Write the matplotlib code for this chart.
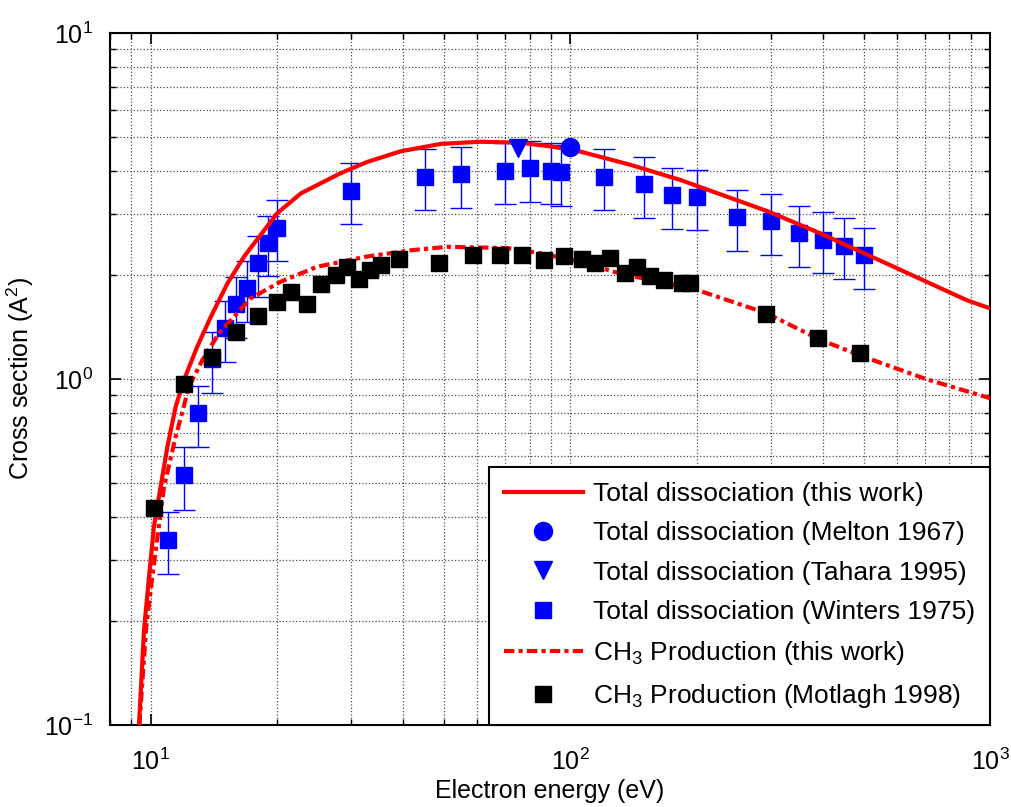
import matplotlib
matplotlib.use("Agg")
import matplotlib.pyplot as plt
from matplotlib.lines import Line2D

# total dissociation, this work
tot_x = [9.38, 9.64, 9.91, 10.18, 10.56, 10.96, 11.47, 12.0, 12.91, 13.9, 15.24, 16.7,
         20.0, 22.8, 28.3, 32.8, 39.4, 49, 61, 76, 91, 105.8, 139, 183, 296, 393, 600,
         880, 1000]
tot_y = [0.1, 0.188, 0.268, 0.374, 0.488, 0.637, 0.832, 0.993, 1.24, 1.51, 1.89, 2.26,
         3.01, 3.44, 3.93, 4.24, 4.55, 4.78, 4.85, 4.82, 4.69, 4.54, 4.16, 3.76, 3.05,
         2.64, 2.09, 1.69, 1.6]

# CH3 production, this work
ch3_x = [9.4, 9.75, 10.09, 10.76, 11.47, 12.34, 13.28, 14.54, 17.3, 20.4, 24.9, 32.8,
         42.3, 50.9, 70.7, 84.7, 105.8, 131, 200, 293, 393, 490, 703, 1000]
ch3_y = [0.1, 0.19, 0.268, 0.488, 0.681, 0.95, 1.135, 1.355, 1.71, 1.91, 2.11, 2.26,
         2.36, 2.41, 2.39, 2.31, 2.18, 2.02, 1.81, 1.55, 1.30, 1.17, 1.0, 0.88]

# Melton 1967, Tahara 1995
melton_x, melton_y = [100], [4.69]
tahara_x, tahara_y = [75], [4.65]

# Winters 1975 with error bars
win_x = [11, 12, 13, 14, 15, 16, 17, 18, 19, 20, 30, 45, 55, 70, 80, 90, 95,
         120, 150, 175, 200, 250, 300, 350, 400, 450, 500]
win_y = [0.343, 0.528, 0.797, 1.14, 1.40, 1.647, 1.83, 2.16, 2.47, 2.74, 3.50, 3.84,
         3.91, 4.0, 4.06, 4.0, 3.96, 3.84, 3.65, 3.40, 3.36, 2.93, 2.86, 2.64, 2.53,
         2.43, 2.28]
win_err = [0.07, 0.11, 0.16, 0.23, 0.28, 0.33, 0.37, 0.43, 0.49, 0.55, 0.70, 0.77,
           0.78, 0.80, 0.81, 0.80, 0.79, 0.77, 0.73, 0.68, 0.67, 0.59, 0.57, 0.53,
           0.51, 0.49, 0.46]

# Motlagh 1998
mot_x = [10.2, 12, 14, 16, 18, 20, 21.6, 23.6, 25.5, 27.6, 29.4, 31.3, 33.4, 35.3, 39,
         48.6, 58.7, 67.8, 76.7, 86.4, 96.4, 106.7, 114.7, 124.5, 134.7, 144.2, 155,
         166.8, 184.5, 193, 293, 390, 489]
mot_y = [0.423, 0.97, 1.16, 1.364, 1.52, 1.67, 1.79, 1.65, 1.88, 2.00, 2.11, 1.95,
         2.07, 2.14, 2.22, 2.16, 2.28, 2.28, 2.28, 2.21, 2.26, 2.22, 2.16, 2.23, 2.02,
         2.11, 1.98, 1.93, 1.89, 1.89, 1.54, 1.31, 1.19]

plt.rcParams["font.family"] = ["Liberation Sans", "DejaVu Sans"]
plt.rcParams["mathtext.default"] = "regular"
plt.rcParams["axes.unicode_minus"] = False

fig = plt.figure(figsize=(10.12, 8.07), dpi=100)
ax = fig.add_axes([0.1087, 0.1016, 0.8696, 0.8575])

ax.errorbar(win_x, win_y, yerr=win_err, fmt="s", color="blue", ms=12, ecolor="blue",
            elinewidth=1, capsize=8, capthick=1, zorder=2)
dd = (0, (2.5, 1, 1, 1))
ax.plot(tot_x, tot_y, "-", color="red", lw=3, zorder=3)
ax.plot(ch3_x, ch3_y, color="red", lw=3, linestyle=dd, zorder=3)
ax.plot(mot_x, mot_y, "s", color="black", ms=12, zorder=4)
ax.plot(melton_x, melton_y, "o", color="blue", ms=13, zorder=5)
ax.plot(tahara_x, tahara_y, "v", color="blue", ms=13, zorder=5)

ax.set_xscale("log")
ax.set_yscale("log")
ax.set_xlim(8, 1000)
ax.set_ylim(0.1, 10)
ax.grid(True, which="both", linestyle=":", color="0.3", linewidth=0.9)
ax.tick_params(which="both", direction="in", top=True, right=True, labelsize=18)
ax.tick_params(axis="x", which="major", pad=17)
ax.tick_params(axis="y", which="major", pad=12)
ax.tick_params(which="major", length=8, width=1.2)
ax.tick_params(which="minor", length=4, width=1)
for s in ax.spines.values():
    s.set_linewidth(1.5)

ax.set_xlabel("Electron energy (eV)", fontsize=18, labelpad=3)
ax.set_ylabel("Cross section (A$^2$)", fontsize=18, labelpad=6)

handles = [
    Line2D([], [], color="red", lw=3),
    Line2D([], [], color="blue", marker="o", ls="none", ms=13),
    Line2D([], [], color="blue", marker="v", ls="none", ms=13),
    Line2D([], [], color="blue", marker="s", ls="none", ms=12),
    Line2D([], [], color="red", lw=3, linestyle=dd),
    Line2D([], [], color="black", marker="s", ls="none", ms=12),
]
labels = [
    "Total dissociation (this work)",
    "Total dissociation (Melton 1967)",
    "Total dissociation (Tahara 1995)",
    "Total dissociation (Winters 1975)",
    "CH$_3$ Production (this work)",
    "CH$_3$ Production (Motlagh 1998)",
]
leg = ax.legend(handles, labels, loc="lower right", bbox_to_anchor=(1, 0),
                borderaxespad=0, fontsize=19, handlelength=3.0, handletextpad=0.4,
                fancybox=False, framealpha=1, edgecolor="black", labelspacing=0.58,
                borderpad=0.55)
leg.get_frame().set_linewidth(1.5)

fig.savefig("out.png", dpi=100)
